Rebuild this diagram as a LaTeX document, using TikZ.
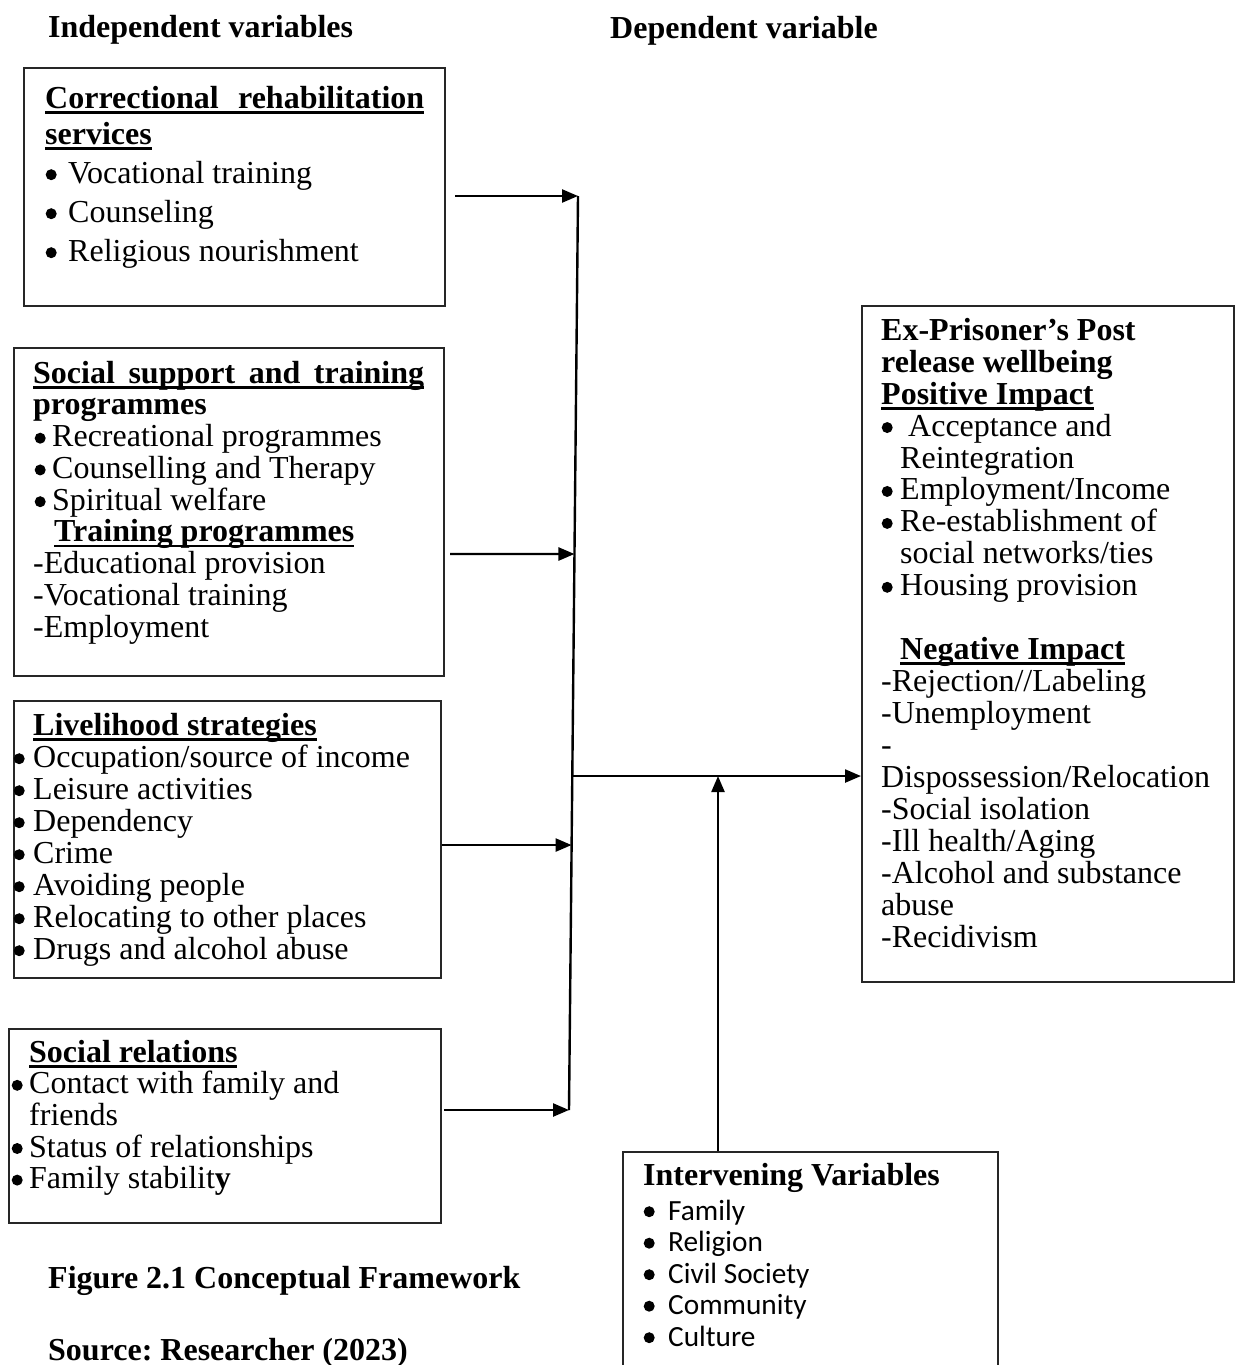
\documentclass[tikz,border=0pt]{standalone}
\usepackage{fontspec}
\setmainfont{Liberation Serif}
\newfontfamily\calib{Carlito}
\usetikzlibrary{arrows.meta,calc}
\frenchspacing
\newsavebox{\ulbox}
\newcommand{\ulb}[1]{\sbox{\ulbox}{#1}\rlap{\rule[-5.5pt]{\wd\ulbox}{2.8pt}}\usebox{\ulbox}}
\newcommand{\dotmark}{\raisebox{3pt}{\tikz[x=1pt,y=1pt]\fill (0,0) circle (5.5pt);}}
\newcommand{\bp}[2]{\rlap{\hspace*{#1}\makebox[0pt][c]{\dotmark}}\hspace*{#2}}
\tikzset{
  frame/.style={draw=black!85, line width=1.7pt, inner sep=0pt, anchor=north west},
  txt/.style={inner sep=0pt, align=left, anchor=north west},
  lbl/.style={inner sep=0pt, anchor=base west, font=\fontsize{32}{32}\selectfont\bfseries},
  conn/.style={line width=2.4pt, -{Triangle[length=16pt,width=13pt]}},
  trunk/.style={line width=2.4pt}
}
\begin{document}
\frenchspacing
\begin{tikzpicture}[x=1pt,y=-1pt]
\useasboundingbox (0,0) rectangle (1240,1365);
% headers
\node[lbl] (h1) at (48,37) {Independent variables};
\node[lbl] (h2) at (610,38) {Dependent variable};
% boxes
\node[frame, minimum width=421pt, minimum height=238pt] (b1) at (23,67) {};
\node[frame, minimum width=430pt, minimum height=328pt] (b2) at (13,347) {};
\node[frame, minimum width=427pt, minimum height=277pt] (b3) at (13,700) {};
\node[frame, minimum width=432pt, minimum height=194pt] (b4) at (8,1028) {};
\node[frame, minimum width=372pt, minimum height=676pt] (out) at (861,305) {};
\node[frame, minimum width=375pt, minimum height=240pt] (iv) at (622,1151) {};
% box 1 text
\node[txt, font=\fontsize{32}{39}\selectfont] (t1) at (45,84) {\rule{0pt}{24pt}\textbf{\ulb{\makebox[379pt][s]{Correctional rehabilitation}}}\\[-3pt]
\textbf{\ulb{services}}\\
\bp{6pt}{23pt}Vocational training\\
\bp{6pt}{23pt}Counseling\\
\bp{6pt}{23pt}Religious nourishment};
% box 2 text
\node[txt, font=\fontsize{32}{31.75}\selectfont] (t2) at (33,359) {\rule{0pt}{24pt}\textbf{\ulb{\makebox[391pt][s]{Social support and training}}}\\
\textbf{programmes}\\
\bp{7pt}{19pt}Recreational programmes\\
\bp{7pt}{19pt}Counselling and Therapy\\
\bp{7pt}{19pt}Spiritual welfare\\
\hspace*{21pt}\textbf{\ulb{Training programmes}}\\
-Educational provision\\
-Vocational training\\
-Employment};
% box 3 text
\node[txt, font=\fontsize{32}{32}\selectfont] (t3) at (33,711) {\rule{0pt}{24pt}\textbf{\ulb{Livelihood strategies}}\\
\bp{-14pt}{0pt}Occupation/source of income\\
\bp{-14pt}{0pt}Leisure activities\\
\bp{-14pt}{0pt}Dependency\\
\bp{-14pt}{0pt}Crime\\
\bp{-14pt}{0pt}Avoiding people\\
\bp{-14pt}{0pt}Relocating to other places\\
\bp{-14pt}{0pt}Drugs and alcohol abuse};
% box 4 text
\node[txt, font=\fontsize{32}{31.6}\selectfont] (t4) at (29,1038) {\rule{0pt}{24pt}\textbf{\ulb{Social relations}}\\
\bp{-12pt}{0pt}Contact with family and\\
friends\\
\bp{-12pt}{0pt}Status of relationships\\
\bp{-12pt}{0pt}Family stabilit\textbf{y}};
% outcome box text
\node[txt, font=\fontsize{32}{31.95}\selectfont] (t5) at (881,316) {\rule{0pt}{24pt}\textbf{Ex-Prisoner’s Post}\\
\textbf{release wellbeing}\\
\textbf{\ulb{Positive Impact}}\\
\bp{6pt}{27pt}Acceptance and\\
\hspace*{19pt}Reintegration\\
\bp{6pt}{19pt}Employment/Income\\
\bp{6pt}{19pt}Re-establishment of\\
\hspace*{19pt}social networks/ties\\
\bp{6pt}{19pt}Housing provision\\[31.95pt]
\hspace*{19pt}\textbf{\ulb{Negative Impact}}\\
-Rejection//Labeling\\
-Unemployment\\
-\\
Dispossession/Relocation\\
-Social isolation\\
-Ill health/Aging\\
-Alcohol and substance\\
abuse\\
-Recidivism};
% intervening text
\node[lbl] (t6) at (643,1185) {Intervening Variables};
\node[txt, font=\calib\fontsize{29.3}{31.5}\selectfont] (t7) at (668,1196) {\rule{0pt}{24pt}\bp{-19pt}{0pt}Family\\
\bp{-19pt}{0pt}Religion\\
\bp{-19pt}{0pt}Civil Society\\
\bp{-19pt}{0pt}Community\\
\bp{-19pt}{0pt}Culture};
% captions
\node[lbl] (c1) at (48,1288) {Figure 2.1 Conceptual Framework};
\node[lbl] (c2) at (48,1360) {Source: Researcher (2023)};
% connectors
\coordinate (j1) at (578,196);
\coordinate (j4) at (569,1110);
\coordinate (j2) at ($(j1)!0.3917!(j4)$);
\coordinate (jh) at ($(j1)!0.6346!(j4)$);
\coordinate (j3) at ($(j1)!0.7101!(j4)$);
\coordinate (s1) at (455,196);
\coordinate (s2) at (450,554);
\coordinate (s4) at (444,1110);
\coordinate (ivt) at (718,1151);
\draw[trunk] (j1) -- (j4);
\draw[conn] (s1) -- (j1);
\draw[conn] (s2) -- (j2);
\draw[conn] (b3.east |- j3) -- (j3);
\draw[conn] (s4) -- (j4);
\draw[conn] (jh) -- (out.west |- jh);
\draw[conn] (ivt) -- (ivt |- jh);
\end{tikzpicture}
\end{document}
